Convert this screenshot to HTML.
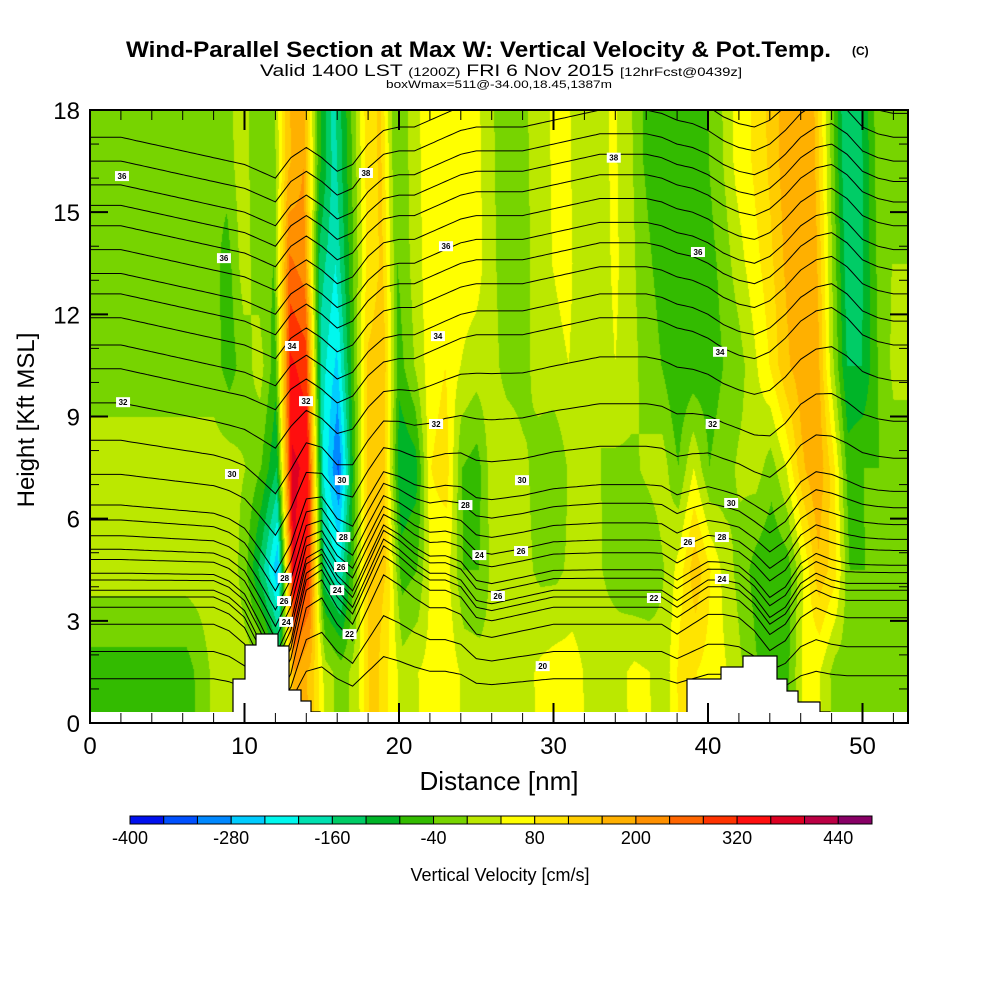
<!DOCTYPE html>
<html><head><meta charset="utf-8">
<style>
html,body{margin:0;padding:0;background:#fff;}
#wrap{position:relative;width:1000px;height:1000px;overflow:hidden;font-family:"Liberation Sans",Arial,sans-serif;}
#heat{position:absolute;left:90px;top:110px;}
#ov{position:absolute;left:0;top:0;}
</style></head>
<body>
<div id="wrap">
<canvas id="heat" width="818" height="602"></canvas>
<svg id="ov" width="1000" height="1000" xmlns="http://www.w3.org/2000/svg">
  <g id="contours"></g>
  <g id="terrain" fill="#fff" stroke="#000" stroke-width="1.2">
    <polygon points="233,713 233,679 245,679 245,645 256,645 256,634 278,634 278,646 289,646 289,690 301,690 301,701 311,701 311,712 320,712 320,713"/>
    <polygon points="687,713 687,679 721,679 721,667 743,667 743,656 777,656 777,679 787,679 787,691 798,691 798,702 820,702 820,712 830,712 830,713"/>
    <rect x="90" y="712" width="818" height="11" stroke="none"/>
  </g>
  <g id="clabels" font-size="8" font-weight="bold" text-anchor="middle"></g>
  <rect x="90" y="110" width="818" height="613" fill="none" stroke="#000" stroke-width="2"/>
  <g id="ticks" stroke="#000"></g>
  <g id="xlabels" font-size="24" text-anchor="middle"></g>
  <g id="ylabels" font-size="24" text-anchor="end"></g>
  <text x="499" y="790" font-size="26" text-anchor="middle">Distance [nm]</text>
  <text transform="translate(34,420) rotate(-90)" font-size="24" text-anchor="middle">Height [Kft MSL]</text>
  <text x="126" y="57" font-size="22" font-weight="bold" textLength="705" lengthAdjust="spacingAndGlyphs">Wind-Parallel Section at Max W: Vertical Velocity &amp; Pot.Temp.</text>
  <text x="852" y="55" font-size="12" font-weight="bold">(C)</text>
  <text x="260" y="76" font-size="17" textLength="482" lengthAdjust="spacingAndGlyphs">Valid 1400 LST <tspan font-size="12">(1200Z)</tspan> FRI 6 Nov 2015 <tspan font-size="12">[12hrFcst@0439z]</tspan></text>
  <text x="386" y="88" font-size="11" textLength="226" lengthAdjust="spacingAndGlyphs">boxWmax=511@-34.00,18.45,1387m</text>
  <g id="cbar"></g>
  <g id="cbarlabels" font-size="18" text-anchor="middle"></g>
  <text x="500" y="881" font-size="18" text-anchor="middle">Vertical Velocity [cm/s]</text>
</svg>
</div>
<script>
// ---- data ----
const rowHeights = [16.5, 13.5, 10.5, 7.5, 4.5, 1.5];   // kft, center of each band
const w_row0 = [-20,-20,-20,-20,-20,-20,-20,-20,-20,-20, 20,-20,-40,150,200,-60,-180,-60,80,130, -40,10,60,80,60,60,20,-30,-30,20, 40,50,20,0,50,20,-40,-60,-60,-60, -50,-10,50,80,120,170,190,180,20,-140, -140,-40,-20,-20];
const w_row1 = [-20,-20,-20,-20,-20,-20,-20,-20,-20,-60, 20,-20,-40,250,220,-140,-200,-60,80,130, -40,10,60,80,60,60,20,-30,-30,20, 40,50,20,0,50,20,-30,-50,-70,-70, -60,-30,20,60,100,160,190,190,20,-130, -130,-40,0,0];
const w_row2 = [-20,-20,-20,-20,-20,-20,-20,-20,-20,-60, -20,20,-60,330,300,-180,-250,-60,130,150, -60,0,60,80,40,20,20,-20,-20,20, 30,40,20,0,40,20,-20,-40,-80,-70, -60,-40,-20,30,80,150,180,200,20,-120, -120,-40,10,10];
const w_row3 = [20,20,20,20,20,20,20,20,20,20, 0,-40,-120,370,350,-200,-330,-60,150,120, -120,-100,80,100,-40,-60,30,40,10,-20, -40,10,10,0,-10,-10,10,20,-40,40, -40,-20,10,20,-20,40,150,200,100,-60, -40,-40,-20,-20];
const w_row4 = [20,20,20,20,20,20,20,20,30,30, -40,-150,-280,370,300,-150,-200,-20,160,120, -60,-40,60,50,-40,-40,20,20,10,-10, -10,10,10,0,-20,-40,-40,0,60,150, 80,20,-20,-60,-80,-60,40,150,100,-40, -40,-40,-40,-40];
const w_row5 = [-60,-60,-60,-60,-60,-60,-60,-20,20,30, 20,20,-80,200,150,20,-20,20,150,80, 20,40,60,60,30,20,20,30,30,50, 60,60,30,20,30,50,40,20,100,80, 60,40,0,-40,-60,-40,60,40,-20,-20, -20,-20,-20,-20];
const thetaBase = [17.2,16.5,15.8,15.2,14.6,13.9,13.2,12.6,11.9,11.1,10.4,9.4,8.3,7.3,6.4,5.96,5.5,5.1,4.8,4.4,4.2,3.9,3.7,3.4,2.9,2.1,1.3];
const dispUpper = [0,0,0,-0.1,-0.2,-0.3,-0.4,-0.5,-0.6,-0.7, -0.8,-1.0,-1.2,-0.6,-0.3,-0.6,-1.0,-0.8,-0.2,0.2, 0.3,0.3,0.5,0.7,0.9,1.0,1.0,1.0,1.0,1.1, 1.2,1.3,1.4,1.5,1.5,1.5,1.5,1.4,1.2,1.1, 0.9,0.6,0.4,0.3,0.5,0.9,1.4,1.7,1.8,1.5, 1.0,0.8,0.7,0.7];
const dispLower = [0,0,0,0,0,0,0,0,0,-0.2, -0.6,-1.5,-2.5,-1.5,0.5,0.8,0,-0.5,0.5,1.5, 1.2,0.8,0.5,0.5,0.3,-0.3,-0.4,-0.3,-0.2,-0.1, 0,0,0,0,0,0,0,0,-0.3,0, 0.3,0.3,0.2,-0.2,-0.8,-0.5,0.2,0.5,0.3,0.2, 0.2,0.2,0.2,0.2];
const labelX = [2.07,8.67,17.86,23.04,33.9,39.35,13.07,22.52,40.78,2.14,13.98,22.4,40.3,9.19,16.3,27.96,41.5,24.3,16.4,38.7,40.9,25.2,27.9,16.25,12.6,40.9,16.0,12.56,26.4,36.5,12.7,16.8,29.3];
const labelY = [16.06,13.65,16.15,14.0,16.6,13.83,11.07,11.36,10.9,9.42,9.45,8.78,8.78,7.31,7.13,7.13,6.46,6.4,5.46,5.31,5.46,4.93,5.05,4.58,4.26,4.23,3.9,3.58,3.73,3.67,2.97,2.61,1.67];
const labelText = ["36","36","38","36","38","36","34","34","34","32","32","32","32","30","30","30","30","28","28","26","28","24","26","26","28","24","24","26","26","22","24","22","20"];
const cbarColors = ["#0010ee","#0050ff","#0088ff","#00ccff","#00f8ee","#00e0b0","#00cc66","#00b428","#33bb00","#77d400","#bbe800","#ffff00","#ffe400","#ffcc00","#ffb000","#ff9000","#ff6600","#ff3300","#ff0e0e","#dd0022","#bb0044","#880066"];
const cbarTicks = [-400,-280,-160,-40,80,200,320,440];
const xTicks = [0,10,20,30,40,50];
const yTicks = [0,3,6,9,12,15,18];
// ---- scales ----
const X0=90, PXNM=15.45, Y0=723, PXK=613/18;
const sx = nm => X0 + nm*PXNM;
const sy = k => Y0 - k*PXK;
const NS='http://www.w3.org/2000/svg';
function mk(tag, parent, attrs){const e=document.createElementNS(NS,tag);for(const k in attrs)e.setAttribute(k,attrs[k]);parent.appendChild(e);return e;}
const rows=[w_row0,w_row1,w_row2,w_row3,w_row4,w_row5];
function colorIdx(v){let k=Math.floor((v+400)/40);return Math.max(0,Math.min(21,k));}
function val(nm,k){
  let c=Math.max(0,Math.min(52.999,nm)); let i=Math.floor(c), f=c-i;
  let r; let t;
  if(k>=rowHeights[0]){r=0;t=0;}
  else if(k<=rowHeights[5]){r=4;t=1;}
  else{r=Math.floor((rowHeights[0]-k)/3); if(r>4)r=4; t=(rowHeights[r]-k)/3;}
  const a=rows[r][i]*(1-f)+rows[r][i+1]*f;
  const b=rows[r+1][i]*(1-f)+rows[r+1][i+1]*f;
  return a*(1-t)+b*t;
}
// heatmap
(function(){
  const cv=document.getElementById('heat'),ctx=cv.getContext('2d');
  const W=818,H=602,img=ctx.createImageData(W,H);
  const rgb=cbarColors.map(h=>[parseInt(h.substr(1,2),16),parseInt(h.substr(3,2),16),parseInt(h.substr(5,2),16)]);
  for(let py=0;py<H;py++){
    const k=(Y0-(py+110))/PXK;
    for(let px=0;px<W;px++){
      const nm=px/PXNM;
      const c=rgb[colorIdx(val(nm+(k-9)*0.03,k))];
      const o=(py*W+px)*4;img.data[o]=c[0];img.data[o+1]=c[1];img.data[o+2]=c[2];img.data[o+3]=255;
    }
  }
  ctx.putImageData(img,0,0);
})();
// contours
(function(){
  const g=document.getElementById('contours');
  const cp=mk('clipPath',mk('defs',document.getElementById('ov'),{}),{id:'pc'});
  mk('rect',cp,{x:90,y:110,width:818,height:602});
  g.setAttribute('clip-path','url(#pc)');
  thetaBase.forEach((h0,li)=>{
    const w=Math.max(0,Math.min(1,(h0-4)/6));
    let d='';
    for(let s=0;s<=53*4;s++){
      const nm=s/4, i=Math.min(52,Math.floor(nm)), f=nm-i;
      const du=dispUpper[i]*(1-f)+dispUpper[i+1]*f;
      const dl=dispLower[i]*(1-f)+dispLower[i+1]*f;
      const h=h0+du*w+dl*(1-w)*Math.min(1,h0/3);
      d+=(s?'L':'M')+sx(nm).toFixed(1)+','+sy(h).toFixed(1);
    }
    const p=mk('path',g,{d:d,fill:'none',stroke:'#000','stroke-width':1});
    
    
  });
  const lg=document.getElementById('clabels');
  labelX.forEach((x,i)=>{
    const r=mk('rect',lg,{x:sx(x)-7,y:sy(labelY[i])-5,width:14,height:10,fill:'#fff'});
    
    
    const t=mk('text',lg,{x:sx(x),y:sy(labelY[i])+3});
    t.textContent=labelText[i];
    
    
  });
})();
// axes
(function(){
  const tg=document.getElementById('ticks');
  for(let nm=0;nm<=52;nm+=2){
    const major=nm%10===0, L=major?20:10;
    const t=mk('line',tg,{x1:sx(nm),x2:sx(nm),y1:723,y2:723-L,'stroke-width':major?2:1});
    
    
    const t2=mk('line',tg,{x1:sx(nm),x2:sx(nm),y1:110,y2:110+L,'stroke-width':major?2:1});
    
    
  }
  for(let k=0;k<=18;k++){
    const major=k%3===0, L=major?18:9;
    const t=mk('line',tg,{x1:90,x2:90+L,y1:sy(k),y2:sy(k),'stroke-width':major?2:1});
    
    
    const t2=mk('line',tg,{x1:908,x2:908-L,y1:sy(k),y2:sy(k),'stroke-width':major?2:1});
    
    
  }
  const xl=document.getElementById('xlabels');
  xTicks.forEach(v=>{const t=mk('text',xl,{x:sx(v),y:754});t.textContent=v;
    
    });
  const yl=document.getElementById('ylabels');
  yTicks.forEach(v=>{const t=mk('text',yl,{x:80,y:sy(v)+9});t.textContent=v;
    
    });
  const cb=document.getElementById('cbar'), bw=742/22;
  cbarColors.forEach((c,i)=>{const r=mk('rect',cb,{x:130+i*bw,y:816,width:bw,height:8,fill:c,stroke:'#000','stroke-width':1});
    
    });
  const cl=document.getElementById('cbarlabels');
  cbarTicks.forEach(v=>{const t=mk('text',cl,{x:130+(v+400)/880*742,y:844});t.textContent=v;
    
    });
})();
</script>
</body></html>
